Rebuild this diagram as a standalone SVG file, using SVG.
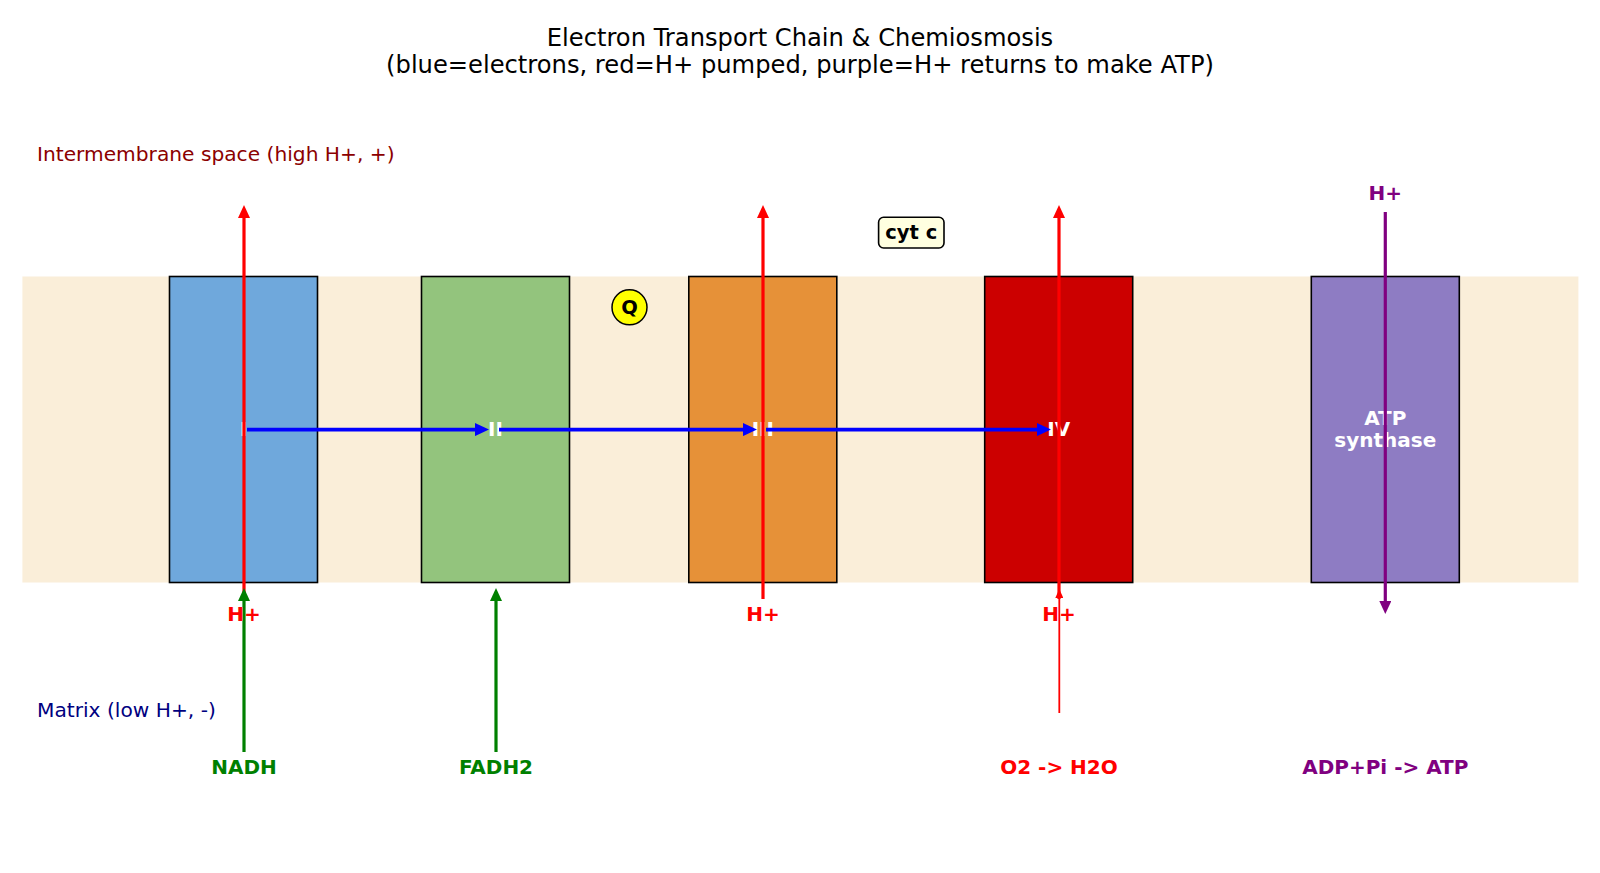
<svg xmlns="http://www.w3.org/2000/svg" width="1600" height="873" viewBox="0 0 1600 873">
<style>
text{font-family:"DejaVu Sans","Liberation Sans",sans-serif}
.title{font-size:24.2px;fill:#000;text-anchor:middle}
.box{stroke:#000;stroke-width:1.6}
.blab{font-size:20px;font-weight:bold;fill:#fff;text-anchor:middle;dominant-baseline:central}
.hp{font-size:20px;font-weight:bold;text-anchor:middle;dominant-baseline:central}
.src{font-size:20px;font-weight:bold;text-anchor:middle;dominant-baseline:central}
.red{stroke:#ff0000;stroke-width:3.2;fill:none}
.grn{stroke:#008000;stroke-width:3.2;fill:none}
.blu{stroke:#0000ff;stroke-width:3.6;fill:none}
.pur{stroke:#800080;stroke-width:3.2;fill:none}
</style>
<defs>
<marker id="mRed" markerUnits="userSpaceOnUse" viewBox="0 0 13 12" markerWidth="13" markerHeight="12" refX="3" refY="6" orient="auto"><path d="M0,0 L13,6 L0,12 z" fill="#ff0000"/></marker>
<marker id="mRedS" markerUnits="userSpaceOnUse" viewBox="0 0 9 8" markerWidth="9" markerHeight="8" refX="2" refY="4" orient="auto"><path d="M0,0 L9,4 L0,8 z" fill="#ff0000"/></marker>
<marker id="mGrn" markerUnits="userSpaceOnUse" viewBox="0 0 13 12" markerWidth="13" markerHeight="12" refX="3" refY="6" orient="auto"><path d="M0,0 L13,6 L0,12 z" fill="#008000"/></marker>
<marker id="mBlu" markerUnits="userSpaceOnUse" viewBox="0 0 14 13" markerWidth="14" markerHeight="13" refX="3" refY="6.5" orient="auto"><path d="M0,0 L14,6.5 L0,13 z" fill="#0000ff"/></marker>
<marker id="mPur" markerUnits="userSpaceOnUse" viewBox="0 0 13 12" markerWidth="13" markerHeight="12" refX="3" refY="6" orient="auto"><path d="M0,0 L13,6 L0,12 z" fill="#800080"/></marker>
</defs>
<rect width="1600" height="873" fill="#fff"/>
<text class="title" x="800" y="46">Electron Transport Chain &amp; Chemiosmosis</text>
<text class="title" x="800" y="73">(blue=electrons, red=H+ pumped, purple=H+ returns to make ATP)</text>
<g id="membrane"><rect x="22.4" y="276.5" width="1556" height="306" fill="#f5deb3" fill-opacity="0.5"/></g>
<text x="37" y="160.5" font-size="20.2" fill="#8b0000">Intermembrane space (high H+, +)</text>
<text x="37" y="716.5" font-size="20.2" fill="#000080">Matrix (low H+, -)</text>
<g id="complexI"><rect class="box" x="169.5" y="276.5" width="148" height="306" fill="#6fa8dc"/><text class="blab" x="243.5" y="429">I</text></g>
<g id="complexII"><rect class="box" x="421.5" y="276.5" width="148" height="306" fill="#93c47d"/><text class="blab" x="495.5" y="429">II</text></g>
<g id="complexIII"><rect class="box" x="688.8" y="276.5" width="148" height="306" fill="#e69138"/><text class="blab" x="762.8" y="429">III</text></g>
<g id="complexIV"><rect class="box" x="984.7" y="276.5" width="148" height="306" fill="#cc0000"/><text class="blab" x="1058.7" y="429">IV</text></g>
<g id="atpSynthase"><rect class="box" x="1311.3" y="276.5" width="148" height="306" fill="#8e7cc3"/><text class="blab" x="1385.3" y="418" font-size="18">ATP</text><text class="blab" x="1385.3" y="440" font-size="18">synthase</text></g>
<g id="Q"><circle cx="629.5" cy="307.3" r="17.5" fill="#ffff00" stroke="#000" stroke-width="1.5"/><text x="629.5" y="307.3" font-size="19.5" font-weight="bold" text-anchor="middle" dominant-baseline="central">Q</text></g>
<g id="cytc"><rect x="878.6" y="217.3" width="65.4" height="30.7" rx="5" fill="#ffffe0" stroke="#000" stroke-width="1.6"/><text x="911.3" y="232.6" font-size="19.5" font-weight="bold" text-anchor="middle" dominant-baseline="central">cyt c</text></g>
<g id="connectors">
<line class="red" x1="244" y1="598" x2="244" y2="215" marker-end="url(#mRed)"/>
<line class="red" x1="763" y1="599" x2="763" y2="215" marker-end="url(#mRed)"/>
<line class="red" x1="1059" y1="599" x2="1059" y2="215" marker-end="url(#mRed)"/>
<line stroke="#ff0000" stroke-width="1.8" x1="1059.3" y1="713" x2="1059.3" y2="596" marker-end="url(#mRedS)"/>
<line class="grn" x1="244" y1="752" x2="244" y2="598" marker-end="url(#mGrn)"/>
<line class="grn" x1="496" y1="752" x2="496" y2="598" marker-end="url(#mGrn)"/>
<line class="blu" x1="247" y1="429.6" x2="478" y2="429.6" marker-end="url(#mBlu)"/>
<line class="blu" x1="499" y1="429.6" x2="746" y2="429.6" marker-end="url(#mBlu)"/>
<line class="blu" x1="766" y1="429.6" x2="1040" y2="429.6" marker-end="url(#mBlu)"/>
<line class="pur" x1="1385.3" y1="212" x2="1385.3" y2="604" marker-end="url(#mPur)"/>
</g>
<g id="labels">
<text class="hp" x="244" y="614" fill="#ff0000">H+</text>
<text class="hp" x="763" y="614" fill="#ff0000">H+</text>
<text class="hp" x="1059" y="614" fill="#ff0000">H+</text>
<text class="hp" x="1385.3" y="193" fill="#800080">H+</text>
<text class="src" x="244" y="767" fill="#008000">NADH</text>
<text class="src" x="496" y="767" fill="#008000">FADH2</text>
<text class="src" x="1059" y="767" fill="#ff0000">O2 -&gt; H2O</text>
<text class="src" x="1385.3" y="767" fill="#800080">ADP+Pi -&gt; ATP</text>
</g>
</svg>
